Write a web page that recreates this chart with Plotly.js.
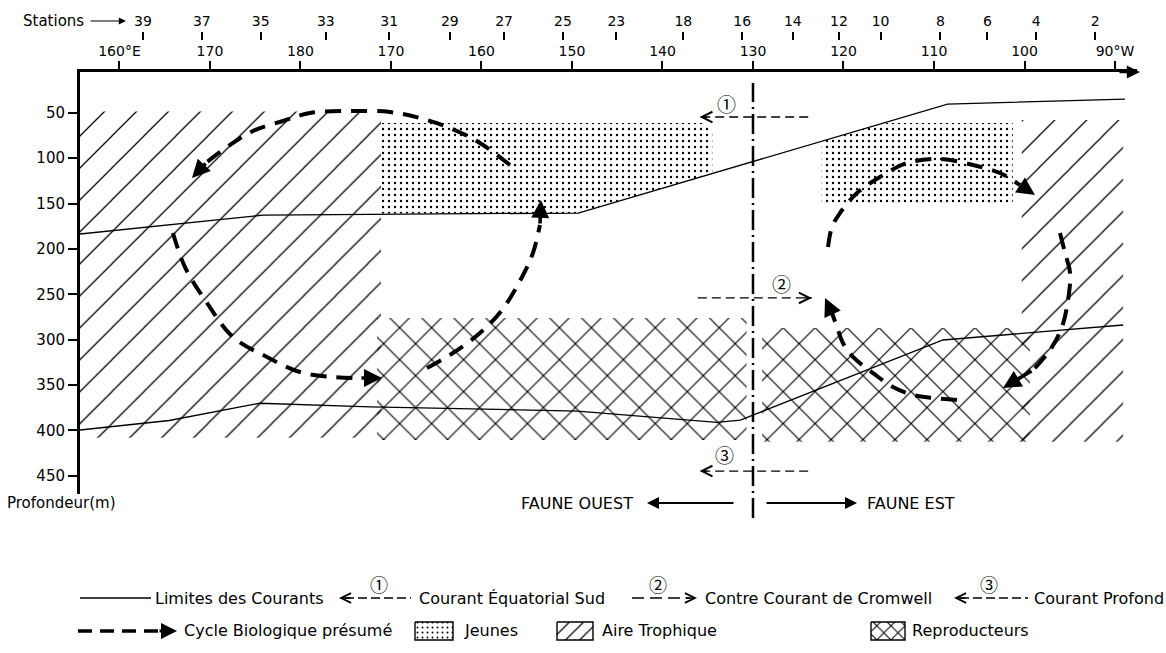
<!DOCTYPE html>
<html><head><meta charset="utf-8">
<script src="https://cdn.plot.ly/plotly-3.0.1.min.js"></script>
<style>html,body{margin:0;padding:0;background:#fff}#chart{width:1166px;height:653px}</style>
</head><body><div id="chart"></div>
<script>
// ---------- axis data ----------
const lonTicks = [160,170,180,190,200,210,220,230,240,250,260,270];
const lonTickText = ['160°E','170','180','170','160','150','140','130','120','110','100','90°W'];
const stationNumbers = ['39','37','35','33','31','29','27','25','23','18','16','14','12','10','8','6','4','2'];
const stationLon = [162.6,169.1,175.6,182.8,189.8,196.5,202.5,209.0,214.9,222.3,228.8,234.4,239.5,244.1,250.7,255.9,261.3,267.8];
const depthTicks = [50,100,150,200,250,300,350,400,450];

// ---------- current limits (lon in degrees east, 0-360; depth in m) ----------
const upperLimitLon = [155.64,165.9,175.9,210.7,251.5,271.1];
const upperLimitDepth = [183.5,172.5,162.6,160.4,40.3,34.8];
const lowerLimitLon = [155.64,165.5,175.5,187.7,210.6,226.0,228.6,251.0,270.9];
const lowerLimitDepth = [399.5,389,370,374,378.6,391,388.5,300.3,283.8];

// ---------- zones ----------
const trophicWestLon = [155.64,188.9,188.9,155.64];
const trophicWestDepth = [48.5,48.5,408,408];
const trophicEastLon = [259.7,270.9,270.9,259.7];
const trophicEastDepth = [58,58,412.5,412.5];
const juvenileWestLon = [189.0,224.5,225.5,225.5,210.7,189.0];
const juvenileWestDepth = [61.2,61.2,70,116.8,160.4,161];
const juvenileEastLon = [237.6,244.4,258.7,258.7,237.6];
const juvenileEastDepth = [81.2,61.2,61.2,151.6,151.6];
const spawnWestLon = [188.45,229.3,229.3,188.45];
const spawnWestDepth = [276,276,410.5,410.5];
const spawnEastLon = [231.0,260.6,260.6,231.0];
const spawnEastDepth = [287,287,412.5,412.5];

// ---------- currents ----------
const dividingLon = 230;
const current1Lon = [236.1,224.1]; const current1Depth = [54.6,54.6];
const current2Lon = [223.9,236.5]; const current2Depth = [254,254];
const current3Lon = [236.1,224.1]; const current3Depth = [444.7,444.7];
const currentLabels = ['①','②','③'];
const currentLabelLon = [227.1,233.2,226.9];
const currentLabelDepth = [39.2,237.5,427];

// ---------- presumed biological cycle ----------
const westTopLon = [203.15,199.83,196.52,193.20,189.89,185.47,181.05,178.07,174.75,172.21,169.67,168.01];
const westTopDepth = [107.5,83.2,66.7,55.7,49.1,48.0,50.2,59.0,70.0,85.4,104.2,121.8];
const westDownLon = [165.91,167.24,169.67,172.54,176.30,179.94,183.59,186.57,189.01];
const westDownDepth = [182.4,219.9,259.5,297.0,319.0,335.6,341.1,342.2,342.2];
const westUpLon = [193.98,196.85,199.83,202.27,204.48,205.69,206.46,206.57];
const westUpDepth = [331.2,314.6,292.6,267.3,230.9,204.4,173.6,146.0];
const eastTopLon = [238.29,238.73,239.61,241.49,244.03,247.02,250.66,254.31,257.29,259.50,261.16];
const eastTopDepth = [197.8,175.8,160.4,138.3,120.7,105.3,100.9,107.5,116.3,129.5,140.5];
const eastDownLon = [263.92,264.48,265.03,264.81,264.14,262.82,260.94,257.62];
const eastDownDepth = [182.4,204.4,226.5,256.2,286.0,311.3,333.4,353.2];
const eastBackLon = [252.54,249.89,247.68,245.47,243.26,241.05,239.94,239.28,238.73,237.96];
const eastBackDepth = [366.4,364.2,360.9,352.1,336.7,319.0,303.6,286.0,270.6,254.0];

const FONT = 'DejaVu Sans, sans-serif';
const CIRC = 'Noto Sans CJK JP, DejaVu Sans, sans-serif';
const traces = [];
const annotations = [];
const shapes = [];

function zone(xs, ys, shape, size, solidity) {
  traces.push({x: xs, y: ys, xaxis:'x', yaxis:'y', mode:'lines', fill:'toself',
    line:{width:0, color:'rgba(0,0,0,0)'}, fillcolor:'rgba(0,0,0,0)',
    fillpattern:{shape:shape, size:size, solidity:solidity, fgcolor:'#000', bgcolor:'rgba(0,0,0,0)'},
    hoverinfo:'skip', showlegend:false});
}
zone(trophicWestLon, trophicWestDepth, '/', 22.6, 0.055);
zone(trophicEastLon, trophicEastDepth, '/', 22.6, 0.055);
zone(spawnWestLon, spawnWestDepth, 'x', 22.6, 0.1);
zone(spawnEastLon, spawnEastDepth, 'x', 22.6, 0.1);
zone(juvenileWestLon, juvenileWestDepth, '.', 6, 0.12);
zone(juvenileEastLon, juvenileEastDepth, '.', 6, 0.12);

function solid(xs, ys) {
  traces.push({x: xs, y: ys, mode:'lines', line:{color:'#000', width:1.3}, hoverinfo:'skip', showlegend:false});
}
solid(upperLimitLon, upperLimitDepth);
solid(lowerLimitLon, lowerLimitDepth);

function headAnn(x, y, ax, ay, head, size, width, xref, yref) {
  annotations.push({x:x, y:y, ax:ax, ay:ay, xref:xref||'x', yref:yref||'y', axref:xref||'x', ayref:yref||'y',
    text:'', showarrow:true, arrowhead:head, arrowsize:size, arrowwidth:width, arrowcolor:'#000', standoff:0});
}

function current(xs, ys) {
  traces.push({x: xs, y: ys, mode:'lines', line:{color:'#000', width:1.3, dash:'9px,5px'}, hoverinfo:'skip', showlegend:false});
  const n = xs.length;
  const dir = Math.sign(xs[n-1]-xs[n-2]);
  headAnn(xs[n-1], ys[n-1], xs[n-1]-dir*1.0, ys[n-1], 5, 1.6, 1.3);
}
current(current1Lon, current1Depth);
current(current2Lon, current2Depth);
current(current3Lon, current3Depth);
currentLabels.forEach((t,i)=>annotations.push({x:currentLabelLon[i], y:currentLabelDepth[i], xref:'x', yref:'y',
  text:t, showarrow:false, font:{family:CIRC, size:19, color:'#000'}}));

function cycle(xs, ys) {
  const n = xs.length;
  traces.push({x: xs.slice(0, n-1), y: ys.slice(0, n-1), mode:'lines',
    line:{color:'#000', width:4, dash:'16px,10px', shape:'spline', smoothing:1}, hoverinfo:'skip', showlegend:false});
  headAnn(xs[n-1], ys[n-1], xs[n-2], ys[n-2], 2, 1.0, 3.6);
}
cycle(westTopLon, westTopDepth);
cycle(westDownLon, westDownDepth);
cycle(westUpLon, westUpDepth);
cycle(eastTopLon, eastTopDepth);
cycle(eastDownLon, eastDownDepth);
cycle(eastBackLon, eastBackDepth);

// dummy trace for the station axis
traces.push({x: stationLon, y: stationLon.map(()=>null), xaxis:'x2', yaxis:'y', mode:'markers', hoverinfo:'skip', showlegend:false});

// dividing meridian (dash-dot), reaches below the plot
shapes.push({type:'line', xref:'x', yref:'paper', x0:dividingLon, x1:dividingLon, y0:1-518/653, y1:1-83/653,
  line:{color:'#000', width:2.5, dash:'20px,5px,2px,5px'}});

// top axis arrow
headAnn(1140/1166, 1-72/653, 1118/1166, 1-72/653, 2, 1.1, 2.4, 'paper', 'paper');

// Stations label + arrow
annotations.push({x:21/1166, y:1-21/653, xref:'paper', yref:'paper', xanchor:'left', yanchor:'middle',
  text:'Stations', showarrow:false, font:{family:FONT, size:15, color:'#000'}});
headAnn(126/1166, 1-21/653, 89/1166, 1-21/653, 2, 1.2, 1.2, 'paper', 'paper');

// Profondeur
annotations.push({x:5/1166, y:1-503/653, xref:'paper', yref:'paper', xanchor:'left', yanchor:'middle',
  text:'Profondeur(m)', showarrow:false, font:{family:FONT, size:15, color:'#000'}});

// FAUNE OUEST / EST
annotations.push({x:635/1166, y:1-503/653, xref:'paper', yref:'paper', xanchor:'right', yanchor:'middle',
  text:'FAUNE OUEST', showarrow:false, font:{family:FONT, size:16, color:'#000'}});
annotations.push({x:865/1166, y:1-503/653, xref:'paper', yref:'paper', xanchor:'left', yanchor:'middle',
  text:'FAUNE EST', showarrow:false, font:{family:FONT, size:16, color:'#000'}});
headAnn(647/1166, 1-503/653, 735/1166, 1-503/653, 2, 1.2, 2, 'paper', 'paper');
headAnn(857/1166, 1-503/653, 765/1166, 1-503/653, 2, 1.2, 2, 'paper', 'paper');

// ---------- legend (drawn in a pixel helper subplot x3/y3) ----------
const LF = {family:FONT, size:16, color:'#000'};
function ltext(px, py, t) {
  annotations.push({x:px, y:py, xref:'x3', yref:'y3', xanchor:'left', yanchor:'middle', text:t, showarrow:false, font:LF});
}
function lline(x0, x1, py, dash, w) {
  traces.push({x:[x0,x1], y:[py,py], xaxis:'x3', yaxis:'y3', mode:'lines', line:{color:'#000', width:w, dash:dash}, hoverinfo:'skip', showlegend:false});
}
function lbox(x0, x1, y0, y1, shape, size, sol) {
  traces.push({x:[x0,x1,x1,x0,x0], y:[y0,y0,y1,y1,y0], xaxis:'x3', yaxis:'y3', mode:'lines', fill:'toself',
    line:{color:'#000', width:1.4}, fillcolor:'rgba(0,0,0,0)',
    fillpattern:{shape:shape, size:size, solidity:sol, fgcolor:'#000', bgcolor:'rgba(0,0,0,0)'}, hoverinfo:'skip', showlegend:false});
}
function lhead(x, ax, py, head, size, w) {
  annotations.push({x:x, y:py, ax:ax, ay:py, xref:'x3', yref:'y3', axref:'x3', ayref:'y3', text:'', showarrow:true,
    arrowhead:head, arrowsize:size, arrowwidth:w, arrowcolor:'#000', standoff:0});
}
function lcirc(px, py, t) {
  annotations.push({x:px, y:py, xref:'x3', yref:'y3', text:t, showarrow:false, font:{family:CIRC, size:18, color:'#000'}});
}
// row 1
lline(80, 151, 598, 'solid', 1.3); ltext(153, 598, 'Limites des Courants');
lline(345, 411, 598, '9px,4px', 1.3); lhead(339, 352, 598, 5, 1.5, 1.3); lcirc(379, 584, '①');
ltext(417, 598, 'Courant Équatorial Sud');
lline(632, 690, 598, '12px,6px', 1.3); lhead(697, 684, 598, 5, 1.5, 1.3); lcirc(658, 584, '②');
ltext(703, 598, 'Contre Courant de Cromwell');
lline(960, 1028, 598, '9px,4px', 1.3); lhead(954, 967, 598, 5, 1.5, 1.3); lcirc(989, 584, '③');
ltext(1032, 598, 'Courant Profond');
// row 2
lline(78, 160, 631, '14px,8px', 3.5); lhead(177, 158, 631, 2, 1.0, 3.2);
ltext(182, 630, 'Cycle Biologique présumé');
lbox(415, 453, 622, 640, '.', 5, 0.12); ltext(462, 630, 'Jeunes');
lbox(557, 593, 622, 640, '/', 10, 0.12); ltext(600, 630, 'Aire Trophique');
lbox(871, 905, 622, 640, 'x', 10, 0.2); ltext(910, 630, 'Reproducteurs');

const layout = {
  width:1166, height:653, autosize:false,
  margin:{l:0, r:0, t:0, b:0},
  paper_bgcolor:'#fff', plot_bgcolor:'rgba(0,0,0,0)',
  showlegend:false,
  font:{family:FONT, color:'#000'},
  xaxis:{domain:[80/1166, 1137/1166], range:[155.64, 272.43], side:'top', anchor:'y',
    showline:true, linewidth:2.6, linecolor:'#000', ticks:'outside', ticklen:8, tickwidth:2, tickcolor:'#000',
    tickvals:lonTicks, ticktext:lonTickText, tickfont:{family:FONT, size:14, color:'#000'},
    showgrid:false, zeroline:false, fixedrange:true},
  xaxis2:{overlaying:'x', matches:'x', side:'top', anchor:'free', position:1-40/653,
    showline:false, ticks:'outside', ticklen:8, tickwidth:2, tickcolor:'#000',
    tickvals:stationLon, ticktext:stationNumbers, tickfont:{family:FONT, size:14, color:'#000'},
    showgrid:false, zeroline:false, fixedrange:true},
  yaxis:{domain:[1-494/653, 1-72/653], range:[470, 5], anchor:'x',
    showline:true, linewidth:3, linecolor:'#000', ticks:'outside', ticklen:9, tickwidth:2, tickcolor:'#000',
    tickvals:depthTicks, tickfont:{family:FONT, size:15, color:'#000'},
    showgrid:false, zeroline:false, fixedrange:true},
  xaxis3:{domain:[0,1], range:[0,1166], anchor:'y3', visible:false, fixedrange:true},
  yaxis3:{domain:[0,0.15], range:[653, 653-0.15*653], anchor:'x3', visible:false, fixedrange:true},
  shapes:shapes,
  annotations:annotations
};
Plotly.newPlot('chart', traces, layout, {displayModeBar:false, staticPlot:true});
</script>
</body></html>
